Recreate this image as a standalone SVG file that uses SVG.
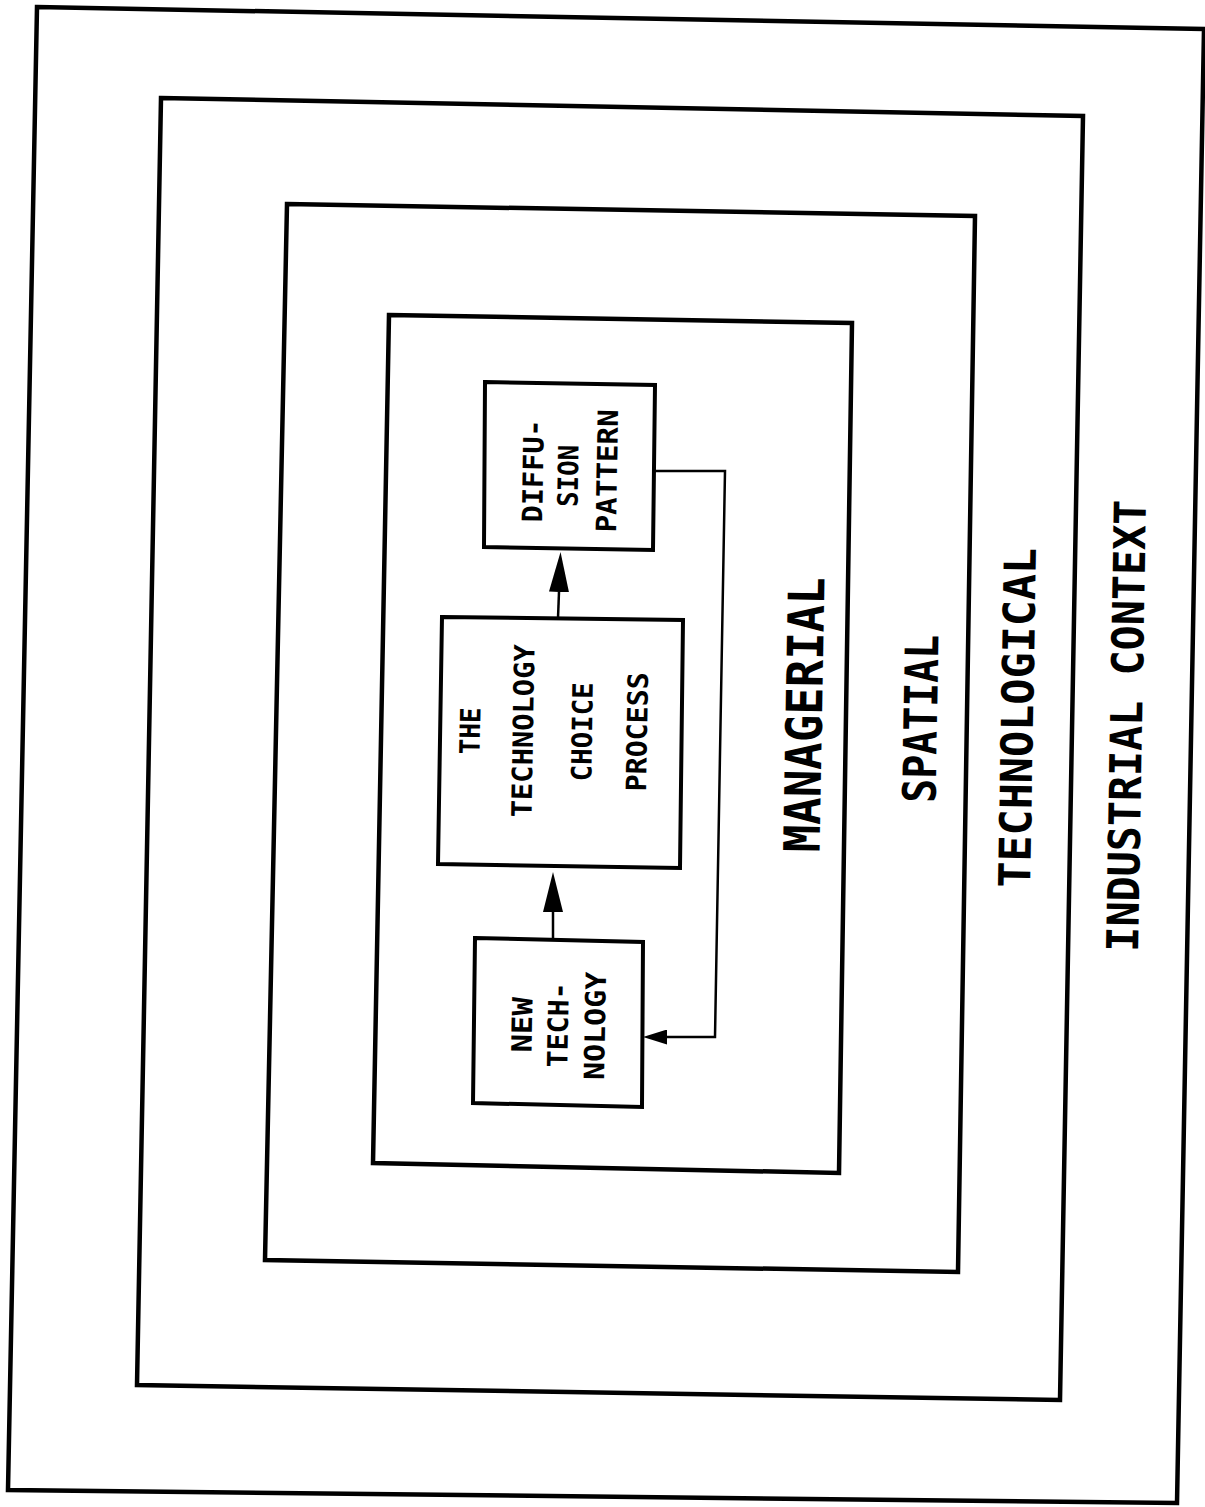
<svg xmlns="http://www.w3.org/2000/svg" width="1205" height="1507" viewBox="0 0 1205 1507">
<style>
.frame{fill:none;stroke:#000;stroke-width:4.5;stroke-linejoin:miter}
.box{fill:#fff;stroke:#000;stroke-width:4;stroke-linejoin:miter}
.conn{fill:none;stroke:#000;stroke-width:2.5}
.t{font-family:"DejaVu Sans Mono","Liberation Mono",monospace;font-weight:bold;fill:#000;text-anchor:middle;lengthAdjust:spacingAndGlyphs}
.big{font-size:44px}
.small{font-size:28px}
</style>
<defs>
<marker id="ah" markerUnits="userSpaceOnUse" viewBox="0 0 40 20" refX="0" refY="10" markerWidth="40" markerHeight="20" orient="auto">
<path d="M0,0 L40,10 L0,20 z" fill="#000"/>
</marker>
<marker id="ahs" markerUnits="userSpaceOnUse" viewBox="0 0 24 15" refX="0" refY="7.5" markerWidth="24" markerHeight="15" orient="auto">
<path d="M0,0 L24,7.5 L0,15 z" fill="#000"/>
</marker>
</defs>
<rect width="1205" height="1507" fill="#fff"/>

<g id="industrial-context">
<polygon class="frame" points="37,7 1204,29 1177,1503 8,1490"/>
<text class="t big" transform="translate(1142,726) rotate(-89)" textLength="452" lengthAdjust="spacingAndGlyphs">INDUSTRIAL CONTEXT</text>
</g>
<g id="technological">
<polygon class="frame" points="161,98 1083,116 1060,1400 137,1385"/>
<text class="t big" transform="translate(1033,718) rotate(-89)" textLength="340" lengthAdjust="spacingAndGlyphs">TECHNOLOGICAL</text>
</g>
<g id="spatial">
<polygon class="frame" points="287,204 975,216 958,1272 265,1260"/>
<text class="t big" style="font-size:46px" transform="translate(937,719) rotate(-89)" textLength="168" lengthAdjust="spacingAndGlyphs">SPATIAL</text>
</g>
<g id="managerial">
<polygon class="frame" points="389,315 852,323 839,1173 373,1163"/>
<text class="t big" style="font-size:50px" transform="translate(822,715) rotate(-89)" textLength="275" lengthAdjust="spacingAndGlyphs">MANAGERIAL</text>
</g>

<g id="connectors">
<path class="conn" d="M558,618 L559,592" marker-end="url(#ah)"/>
<path class="conn" d="M553,939 L553,912" marker-end="url(#ah)"/>
<path class="conn" d="M655,471 L725,471 L715,1037 L667,1037" marker-end="url(#ahs)"/>
</g>

<g id="diffusion-pattern">
<polygon class="box" points="485,382 655,385 653,550 484,547"/>
<text class="t small" transform="translate(543,471) rotate(-89)" textLength="103" lengthAdjust="spacingAndGlyphs">DIFFU-</text>
<text class="t small" transform="translate(578,476) rotate(-89)" textLength="62" lengthAdjust="spacingAndGlyphs">SION</text>
<text class="t small" transform="translate(617,471) rotate(-89)" textLength="123" lengthAdjust="spacingAndGlyphs">PATTERN</text>
</g>
<g id="technology-choice-process">
<polygon class="box" points="442,617 683,620 680,868 438,864"/>
<text class="t small" transform="translate(480,731) rotate(-89)" textLength="47" lengthAdjust="spacingAndGlyphs">THE</text>
<text class="t small" transform="translate(533,731) rotate(-89)" textLength="173" lengthAdjust="spacingAndGlyphs">TECHNOLOGY</text>
<text class="t small" transform="translate(592,732) rotate(-89)" textLength="99" lengthAdjust="spacingAndGlyphs">CHOICE</text>
<text class="t small" transform="translate(647,732) rotate(-89)" textLength="119" lengthAdjust="spacingAndGlyphs">PROCESS</text>
</g>
<g id="new-technology">
<polygon class="box" points="475,938 643,942 642,1107 473,1103"/>
<text class="t small" transform="translate(532,1025) rotate(-89)" textLength="55" lengthAdjust="spacingAndGlyphs">NEW</text>
<text class="t small" transform="translate(568,1025) rotate(-89)" textLength="85" lengthAdjust="spacingAndGlyphs">TECH-</text>
<text class="t small" transform="translate(605,1026) rotate(-89)" textLength="108" lengthAdjust="spacingAndGlyphs">NOLOGY</text>
</g>
</svg>
